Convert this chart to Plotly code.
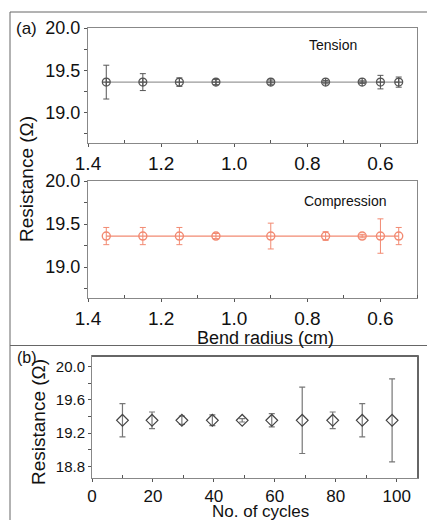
import plotly.graph_objects as go

# ---- data ----
bend_radius = [1.35, 1.25, 1.15, 1.05, 0.90, 0.75, 0.65, 0.60, 0.55]
tension_R = [19.36, 19.36, 19.36, 19.36, 19.36, 19.36, 19.36, 19.36, 19.36]
tension_err = [0.20, 0.10, 0.05, 0.03, 0.025, 0.02, 0.015, 0.08, 0.06]
compression_R = [19.36, 19.36, 19.36, 19.36, 19.36, 19.36, 19.36, 19.36, 19.36]
compression_err = [0.10, 0.10, 0.10, 0.03, 0.15, 0.05, 0.02, 0.20, 0.10]
cycles = [10, 19.7, 29.5, 39.5, 49.3, 59, 69, 79, 88.7, 98.5]
cycles_R = [19.355, 19.355, 19.355, 19.355, 19.355, 19.355, 19.355, 19.355, 19.355, 19.355]
cycles_err = [0.20, 0.10, 0.05, 0.065, 0.02, 0.08, 0.40, 0.10, 0.20, 0.50]

W, H = 427, 520
FONT = "Liberation Sans, Arial, sans-serif"
GRAY = "#555555"
SALMON = "#f28a72"

def px_x(x):
    return x / W

def px_y(y):
    return 1 - y / H

fig = go.Figure()

fig.add_trace(go.Scatter(
    x=bend_radius, y=tension_R, mode="lines+markers",
    line=dict(color="#9a9a9a", width=1.2),
    marker=dict(symbol="circle-cross-open", size=8, color=GRAY, line=dict(width=1.2)),
    error_y=dict(type="data", array=tension_err, visible=True, color=GRAY, thickness=1, width=3),
    xaxis="x", yaxis="y", showlegend=False))

fig.add_trace(go.Scatter(
    x=bend_radius, y=compression_R, mode="lines+markers",
    line=dict(color=SALMON, width=1.2),
    marker=dict(symbol="circle-open", size=8, color=SALMON, line=dict(width=1.4)),
    error_y=dict(type="data", array=compression_err, visible=True, color=SALMON, thickness=1, width=3),
    xaxis="x2", yaxis="y2", showlegend=False))

fig.add_trace(go.Scatter(
    x=cycles, y=cycles_R, mode="markers",
    marker=dict(symbol="diamond-open", size=9, color="#444444", line=dict(width=1.2)),
    error_y=dict(type="data", array=cycles_err, visible=True, color="#777777", thickness=1.2, width=3),
    xaxis="x3", yaxis="y3", showlegend=False))

common_ax = dict(showgrid=False, zeroline=False, showline=True, linecolor="#888888",
                 linewidth=1, mirror=True, ticks="outside", ticklen=3, tickcolor="#555555",
                 automargin=False,
                 tickfont=dict(family=FONT, size=17, color="#111111"))

xa = dict(common_ax, range=[1.4, 0.5], tickvals=[1.4, 1.2, 1.0, 0.8, 0.6],
          ticktext=["1.4", "1.2", "1.0", "0.8", "0.6"],
          tickfont=dict(family=FONT, size=19, color="#111111"),
          minor=dict(tickvals=[1.3, 1.1, 0.9, 0.7, 0.5], ticks="inside", ticklen=3, tickcolor="#555555"))
ya = dict(common_ax, range=[18.64, 20.0], tickvals=[19.0, 19.5, 20.0],
          ticktext=["19.0", "19.5", "20.0"],
          tickfont=dict(family=FONT, size=18, color="#111111"),
          minor=dict(tickvals=[18.75, 19.25, 19.75], ticks="outside", ticklen=3, tickcolor="#555555"))

fig.update_layout(
    width=W, height=H, margin=dict(l=0, r=0, t=0, b=0, autoexpand=False),
    plot_bgcolor="white", paper_bgcolor="white",
    xaxis=dict(xa, domain=[px_x(88), px_x(417)], anchor="y"),
    yaxis=dict(ya, domain=[px_y(143), px_y(28)], anchor="x"),
    xaxis2=dict(xa, domain=[px_x(88), px_x(417)], anchor="y2"),
    yaxis2=dict(ya, domain=[px_y(298), px_y(181)], anchor="x2"),
    xaxis3=dict(common_ax, range=[0, 107], tickvals=[0, 20, 40, 60, 80, 100],
                minor=dict(tickvals=[10, 30, 50, 70, 90], ticks="inside", ticklen=3, tickcolor="#555555"),
                tickfont=dict(family=FONT, size=17, color="#111111"),
                domain=[px_x(92), px_x(418)], anchor="y3"),
    yaxis3=dict(common_ax, range=[18.66, 20.13], tickvals=[18.8, 19.2, 19.6, 20.0],
                ticktext=["18.8", "19.2", "19.6", "20.0"],
                minor=dict(tickvals=[19.0, 19.4, 19.8], ticks="outside", ticklen=3, tickcolor="#555555"),
                tickfont=dict(family=FONT, size=15, color="#111111"),
                domain=[px_y(478), px_y(356)], anchor="x3"),
)

# top border of panel (b) is thicker
fig.add_shape(type="line", xref="paper", yref="paper", x0=px_x(92), x1=px_x(418),
              y0=px_y(356), y1=px_y(356), line=dict(color="#666666", width=2))
fig.add_shape(type="line", xref="paper", yref="paper", x0=px_x(418), x1=px_x(418),
              y0=px_y(356), y1=px_y(478), line=dict(color="#666666", width=2))

# outer frame lines
frame = dict(color="#666666", width=1)
fig.add_shape(type="line", xref="paper", yref="paper", x0=px_x(10), x1=1, y0=px_y(12), y1=px_y(12), line=frame)
fig.add_shape(type="line", xref="paper", yref="paper", x0=px_x(10), x1=px_x(10), y0=px_y(12), y1=0, line=frame)
fig.add_shape(type="line", xref="paper", yref="paper", x0=px_x(10), x1=1, y0=px_y(345.5), y1=px_y(345.5), line=frame)

def ann(text, x, y, size, angle=0, color="#111111"):
    fig.add_annotation(text=text, x=px_x(x), y=px_y(y), xref="paper", yref="paper",
                       showarrow=False, textangle=angle, xanchor="center", yanchor="middle",
                       font=dict(family=FONT, size=size, color=color))

ann("(a)", 26, 28, 17)
ann("(b)", 27, 357, 16)
ann("Tension", 333, 45, 14)
ann("Compression", 345, 201, 14)
ann("Resistance (Ω)", 26, 179, 19, angle=-90)
ann("Resistance (Ω)", 38, 422, 19, angle=-90)
ann("Bend radius (cm)", 265, 338, 18)
ann("No. of cycles", 260, 511, 17)

fig.write_html("out.html", config={"displayModeBar": False},
               post_script="document.body.style.margin='0';document.body.style.overflow='hidden';")
